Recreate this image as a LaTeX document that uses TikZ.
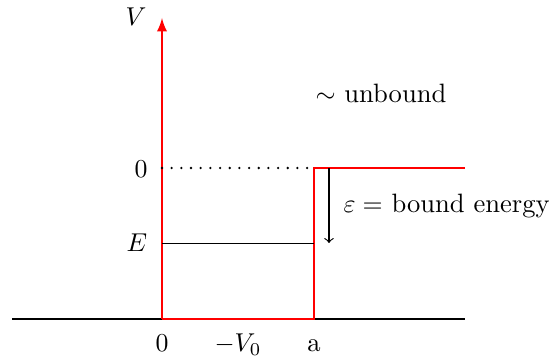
\documentclass[tikz,border=0pt]{standalone}
\usepackage{amsmath}
\begin{document}
\begin{tikzpicture}[x=0.3876pt,y=0.3876pt,font=\fontsize{10.3}{12.4}\selectfont,
  well/.style={red,line width=0.8pt},
  axisline/.style={line width=0.6pt}]
\useasboundingbox (0,0) rectangle (549,359);
% axis and well corners
\coordinate (left) at (12,40);
\coordinate (O) at (162,40);
\coordinate (top) at (162,341);
\coordinate (wallB) at (314,40);
\coordinate (wallT) at (314,191);
\coordinate (zero) at (162,191);
\coordinate (far) at (465,191);
\coordinate (right) at (465,40);
\coordinate (eL) at (162,115.5);
\coordinate (eR) at (314,115.5);
\coordinate (arrT) at (329,191);
\coordinate (arrB) at (329,116);
\draw[axisline] (left) -- (right);
\draw[well,-latex] (O) -- (top);
\draw[well] (O) -- (wallB) -- (wallT) -- (far);
\draw[line width=1pt,line cap=round,dash pattern=on 0pt off 3.75pt] (zero) -- (wallT);
\draw[line width=0.45pt] (eL) -- (eR);
\draw[->,line width=0.45pt] (arrT) -- (arrB);
\node[anchor=base] (vlab) at (136,333) {$V$};
\node[anchor=base] (zlab) at (141,181) {$0$};
\node[anchor=base] (elab) at (137,107.3) {$E$};
\node[anchor=base west,inner sep=0pt] (bound) at (343,146) {$\varepsilon=$ bound energy};
\node[anchor=base west,inner sep=0pt] (unbound) at (315,256) {$\sim$ unbound};
\node[anchor=base] (x0) at (162,7.5) {$0$};
\node[anchor=base] (xv) at (238,7.5) {$-V_0$};
\node[anchor=base] (xa) at (314,7.5) {a};
\end{tikzpicture}
\end{document}
